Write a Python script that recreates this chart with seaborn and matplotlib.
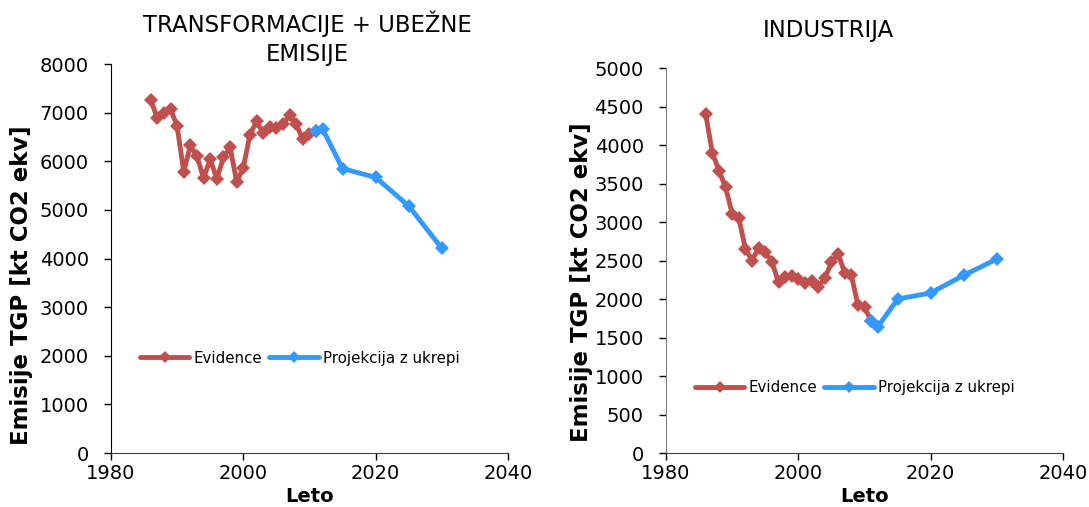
import pandas as pd
import seaborn as sns
import matplotlib.pyplot as plt

sns.set_style('white')
plt.rcParams['font.family'] = ['DejaVu Sans']
plt.rcParams['text.color'] = 'black'
plt.rcParams['axes.labelcolor'] = 'black'

# ----------------------------------------------------------------------
# data
# ----------------------------------------------------------------------
ev_years = list(range(1986, 2012))
trans_ev = [7260, 6900, 7000, 7080, 6720, 5780, 6330, 6100, 5660, 6040, 5640,
            6080, 6290, 5580, 5870, 6550, 6820, 6580, 6700, 6680, 6760, 6960,
            6760, 6450, 6560, 6620]
ind_ev = [4400, 3900, 3670, 3450, 3110, 3050, 2650, 2500, 2670, 2610, 2480,
          2220, 2290, 2300, 2260, 2210, 2240, 2160, 2270, 2480, 2590, 2340,
          2310, 1920, 1900, 1710]

proj_years = [2011, 2012, 2015, 2020, 2025, 2030]
trans_proj = [6620, 6660, 5850, 5670, 5080, 4210]
ind_proj = [1710, 1640, 2000, 2080, 2310, 2520]

red = '#C0504D'
blue = '#3399FF'

fig = plt.figure(figsize=(10.89, 5.07), dpi=100)
ax1 = fig.add_axes([0.1019, 0.1065, 0.3646, 0.767])
ax2 = fig.add_axes([0.6116, 0.1065, 0.3646, 0.759])


def draw(ax, ev, proj, ymax, ystep, spine_col, leg_y, lab_x, lab_y):
    sns.lineplot(x=ev_years, y=ev, ax=ax, color=red, lw=3.5, marker='D',
                 markersize=7, markeredgewidth=0, label='Evidence')
    sns.lineplot(x=proj_years, y=proj, ax=ax, color=blue, lw=3.5, marker='D',
                 markersize=7, markeredgewidth=0, label='Projekcija z ukrepi')
    ax.set_xlim(1980, 2040)
    ax.set_ylim(0, ymax)
    ax.set_xticks([1980, 2000, 2020, 2040])
    ax.set_yticks(range(0, ymax + 1, ystep))
    ax.tick_params(axis='both', direction='out', length=5, width=1,
                   labelsize=14, colors='black', bottom=True, left=True)
    ax.tick_params(axis='y', pad=11)
    ax.tick_params(axis='x', pad=3)
    for s in ['top', 'right']:
        ax.spines[s].set_visible(False)
    ax.spines['left'].set_color(spine_col)
    ax.spines['bottom'].set_color('#404040')
    ax.set_xlabel('Leto', fontsize=14, fontweight='bold')
    ax.xaxis.set_label_coords(0.5, -0.088)
    ax.set_ylabel('Emisije TGP [kt CO2 ekv]', fontsize=16.5, fontweight='bold')
    ax.yaxis.set_label_coords(lab_x, lab_y)
    ax.legend(loc='center', bbox_to_anchor=(0.475, leg_y), ncol=2,
              frameon=False, fontsize=10.8, handlelength=3.3,
              handletextpad=0.25, columnspacing=0.5, markerscale=0.85)


draw(ax1, trans_ev, trans_proj, 8000, 1000, 'black', 0.244, -0.196, 0.432)
draw(ax2, ind_ev, ind_proj, 5000, 500, '#808080', 0.169, -0.184, 0.444)

fig.text(307 / 1089, 1 - 38 / 507, 'TRANSFORMACIJE + UBEŽNE\nEMISIJE',
         ha='center', va='center', fontsize=16.4, linespacing=1.35)
fig.text(828 / 1089, 1 - 30 / 507, 'INDUSTRIJA', ha='center', va='center',
         fontsize=16.4)

fig.savefig('out.png', dpi=100)
